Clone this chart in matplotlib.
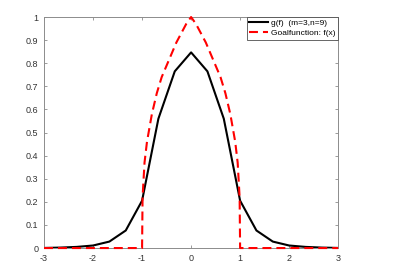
import numpy as np
import matplotlib.pyplot as plt

plt.rcParams['font.family'] = ['Liberation Sans', 'DejaVu Sans']

# approximation g(f), sampled every 1/3
x_g = [-3, -2.667, -2.333, -2, -1.667, -1.333, -1, -0.667, -0.333, 0,
       0.333, 0.667, 1, 1.333, 1.667, 2, 2.333, 2.667, 3]
y_g = [0.0005, 0.002, 0.005, 0.011, 0.028, 0.076, 0.205, 0.56, 0.765, 0.847,
       0.765, 0.56, 0.205, 0.076, 0.028, 0.011, 0.005, 0.002, 0.0005]

# goal function f(x)
x_f = [-3, -1, -0.99, -0.95, -0.9, -0.8, -0.7, -0.6, -0.5, -0.4, -0.3, -0.2, -0.1, 0,
       0.1, 0.2, 0.3, 0.4, 0.5, 0.6, 0.7, 0.8, 0.9, 0.95, 0.99, 1, 3]
y_f = [0, 0, 0.22, 0.37, 0.46, 0.58, 0.67, 0.74, 0.79, 0.84, 0.89, 0.93, 0.97, 1.0,
       0.97, 0.93, 0.89, 0.84, 0.79, 0.74, 0.67, 0.58, 0.46, 0.37, 0.22, 0, 0]

x_ticks = [-3, -2, -1, 0, 1, 2, 3]
y_ticks = [0, 0.1, 0.2, 0.3, 0.4, 0.5, 0.6, 0.7, 0.8, 0.9, 1]
y_ticklabels = ['0', '0.1', '0.2', '0.3', '0.4', '0.5', '0.6', '0.7', '0.8', '0.9', '1']

fig = plt.figure(figsize=(4.04, 2.75), dpi=100)
ax = fig.add_axes([0.109, 0.098, 0.728, 0.84])

ax.plot(x_g, y_g, color='black', lw=1.5, label='g(f)  (m=3,n=9)', zorder=2)
red, = ax.plot(x_f, y_f, color='red', lw=1.5, label='Goalfunction: f(x)',
               clip_on=False, zorder=3)
red.set_dashes([4.3, 2.4])

ax.set_xlim(-3, 3)
ax.set_ylim(0, 1)
ax.set_xticks(x_ticks)
ax.set_xticklabels([str(t) for t in x_ticks])
ax.set_yticks(y_ticks)
ax.set_yticklabels(y_ticklabels)

for s in ax.spines.values():
    s.set_color('0.55')
    s.set_linewidth(0.7)
ax.tick_params(direction='in', length=2.5, width=0.6, color='0.55',
               labelsize=6.5, labelcolor='0.2', top=True, right=True, pad=4)

leg = ax.legend(loc='upper right', borderaxespad=0, fontsize=6, fancybox=False,
                framealpha=1, edgecolor='0.3', handlelength=2.3, handletextpad=0.35,
                labelspacing=0.25, borderpad=0.3)
leg.get_frame().set_linewidth(0.6)
leg.set_zorder(5)

fig.savefig('out.png', dpi=100)
